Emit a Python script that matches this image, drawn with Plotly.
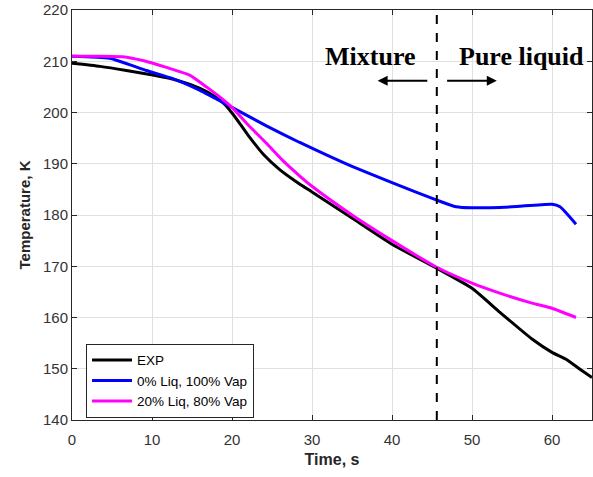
import plotly.graph_objects as go

# Data
t_exp = [0, 3.5, 6.8, 10.1, 13.1, 16, 18, 19, 20, 21, 22, 24, 26, 28.4, 30, 35, 40, 45.6, 50, 53.5, 57.5, 60, 61.7, 63.5, 65]
T_exp = [209.6, 209.0, 208.2, 207.3, 206.3, 204.7, 203.0, 201.7, 199.9, 197.8, 195.6, 191.7, 188.8, 186.1, 184.5, 179.4, 174.3, 169.6, 165.7, 161.0, 155.8, 153.2, 151.9, 149.9, 148.3]

t_vap = [0, 4.7, 9.3, 12.6, 16, 20, 24.3, 28.4, 32, 35, 40, 45.6, 48, 50, 55, 60, 61, 63]
T_vap = [211.0, 210.6, 208.2, 206.6, 204.3, 201.0, 197.4, 194.2, 191.6, 189.5, 186.3, 182.9, 181.6, 181.4, 181.6, 182.1, 181.6, 178.2]

t_mix = [0, 3, 6.3, 9, 11.8, 14.7, 16.8, 18.5, 20, 22, 24.3, 26.3, 28.4, 30, 35, 40, 45.6, 50, 53, 57.5, 60, 63]
T_mix = [211.0, 211.0, 210.9, 210.1, 208.8, 207.3, 205.0, 203.0, 201.0, 197.6, 194.0, 190.7, 187.7, 185.6, 180.0, 175.0, 169.8, 166.7, 165.0, 162.8, 161.8, 160.0]

names = ["EXP", "0% Liq, 100% Vap", "20% Liq, 80% Vap"]
colors = ["#000000", "#0000ff", "#ff00ff"]

x_ticks = [0, 10, 20, 30, 40, 50, 60]
y_ticks = [140, 150, 160, 170, 180, 190, 200, 210, 220]
divider_t = 45.6

fig = go.Figure()
for (xs, ys), nm, c in zip([(t_exp, T_exp), (t_vap, T_vap), (t_mix, T_mix)], names, colors):
    fig.add_trace(go.Scatter(x=xs, y=ys, mode="lines", name=nm,
                             line=dict(color=c, width=3, shape="spline", smoothing=0.5)))

fig.add_shape(type="line", x0=divider_t, x1=divider_t, y0=140, y1=220,
              xref="x", yref="y", line=dict(color="black", width=2, dash="dash"))

serif = "Liberation Serif, Times New Roman, serif"
fig.add_annotation(x=37.3, y=210.9, xref="x", yref="y", text="<b>Mixture</b>", showarrow=False,
                   font=dict(family=serif, size=26, color="black"))
fig.add_annotation(x=56.2, y=210.9, xref="x", yref="y", text="<b>Pure liquid</b>", showarrow=False,
                   font=dict(family=serif, size=26, color="black"))
fig.add_annotation(x=38.2, y=206.2, ax=44.6, ay=206.2, xref="x", yref="y", axref="x", ayref="y",
                   text="", showarrow=True, arrowhead=2, arrowsize=1, arrowwidth=2, arrowcolor="black")
fig.add_annotation(x=53.1, y=206.2, ax=46.7, ay=206.2, xref="x", yref="y", axref="x", ayref="y",
                   text="", showarrow=True, arrowhead=2, arrowsize=1, arrowwidth=2, arrowcolor="black")

axis_common = dict(showgrid=True, gridcolor="#e0e0e0", gridwidth=1,
                   showline=True, linecolor="#262626", linewidth=1, mirror="ticks",
                   ticks="inside", ticklen=5, tickcolor="#262626",
                   tickfont=dict(family="Arial, Liberation Sans, sans-serif", size=15, color="#333333"),
                   zeroline=False)

fig.update_xaxes(range=[0, 65], tickvals=x_ticks, ticklabelstandoff=6,
                 title=dict(text="<b>Time, s</b>", standoff=6,
                            font=dict(family="Arial, Liberation Sans, sans-serif", size=16, color="#262626")),
                 **axis_common)
fig.update_yaxes(range=[140, 220], tickvals=y_ticks,
                 title=dict(text="<b>Temperature, K</b>", standoff=8,
                            font=dict(family="Arial, Liberation Sans, sans-serif", size=15, color="#262626")),
                 **axis_common)

fig.update_layout(
    width=593, height=477,
    margin=dict(l=72, r=1, t=10, b=57),
    plot_bgcolor="white", paper_bgcolor="white",
    legend=dict(x=0.027, y=0.186, xanchor="left", yanchor="top",
                bgcolor="white", bordercolor="#262626", borderwidth=1,
                font=dict(family="Arial, Liberation Sans, sans-serif", size=13.5, color="#000000"),
                tracegroupgap=0, itemwidth=40),
    showlegend=True,
)

fig.write_html("out.html")
